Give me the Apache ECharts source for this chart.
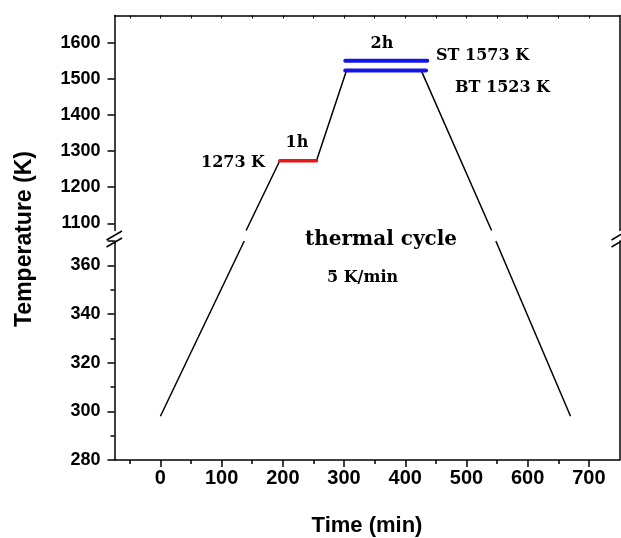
<!DOCTYPE html>
<html>
<head>
    <meta charset="utf-8">
    <title>thermal cycle</title>
    <script src="https://cdn.jsdelivr.net/npm/echarts@6/dist/echarts.min.js"></script>
    <style>
        html, body {margin: 0; padding: 0; background: #fff;}
    </style>
</head>
<body>
<div id="main" style="width: 621px;height:538px;"></div>
<script type="text/javascript">
    // ticks
    var xTicks = [0, 100, 200, 300, 400, 500, 600, 700];
    var xMinorTicks = [-50, 50, 150, 250, 350, 450, 550, 650];
    var xTopTicks = [-50, 0, 50, 100, 150, 200, 250, 300, 350, 400, 450, 500, 550, 600, 650, 700];
    var upperTicks = [1100, 1200, 1300, 1400, 1500, 1600];

    // upper part of the broken axis (K)
    var upperTime = [140, 195, 255, 304, 426, 541];
    var upperTemp = [1080, 1273, 1273, 1523, 1523, 1080];
    var holdTime = [195, 255];
    var holdTemp = [1273, 1273];
    var btTime = [302, 434];
    var btTemp = [1523, 1523];
    var stTime = [302, 436];
    var stTemp = [1550, 1550];

    // lower part of the broken axis (K)
    var riseTime = [0, 137];
    var riseTemp = [298, 370];
    var fallTime = [548, 670];
    var fallTemp = [370, 298];

    function pairs(xs, ys) {
        return xs.map(function (x, i) { return [x, ys[i]]; });
    }

    var sans = '"Liberation Sans", Arial, sans-serif';
    var serif = '"DejaVu Serif", serif';
    var black = '#000';
    var plain = function (v) { return String(v); };

    var myChart = echarts.init(document.getElementById('main'));

    function frameAxis(grid, pos, min, max) {
        return {
            type: 'value', gridIndex: grid, position: pos, min: min, max: max,
            axisLine: {show: true, onZero: false, lineStyle: {color: black, width: 1.5}},
            axisTick: {show: false}, axisLabel: {show: false}, splitLine: {show: false}
        };
    }

    function note(text, x, y, size, align) {
        return {
            type: 'text', x: x, y: y,
            style: {
                text: text, fill: black, align: align || 'left', verticalAlign: 'middle',
                font: 'bold ' + size + 'px ' + serif
            }
        };
    }

    function slash(x1, y1, x2, y2) {
        return {
            type: 'line', shape: {x1: x1, y1: y1, x2: x2, y2: y2},
            style: {stroke: black, lineWidth: 1.5}
        };
    }

    var option = {
        animation: false,
        grid: [
            {left: 114.5, right: 1.5, top: 15.5, height: 215},
            {left: 114.5, right: 1.5, top: 241, height: 219}
        ],
        xAxis: [
            {
                type: 'value', gridIndex: 0, position: 'top', min: -75, max: 750,
                axisLine: {show: true, onZero: false, lineStyle: {color: black, width: 1.5}},
                axisTick: {show: true, inside: true, length: 3, customValues: xTopTicks,
                    lineStyle: {color: black, width: 1}},
                axisLabel: {show: false}, splitLine: {show: false}
            },
            {
                type: 'value', gridIndex: 1, position: 'bottom', min: -75, max: 750,
                name: 'Time (min)', nameLocation: 'middle', nameGap: 55,
                nameTextStyle: {color: black, fontFamily: sans, fontWeight: 'bold', fontSize: 22},
                axisLine: {show: true, onZero: false, lineStyle: {color: black, width: 1.5}},
                axisTick: {show: true, length: 7, customValues: xTicks, lineStyle: {color: black, width: 1.5}},
                axisLabel: {show: true, customValues: xTicks, margin: 8, color: black, formatter: plain,
                    fontFamily: sans, fontWeight: 'bold', fontSize: 20},
                splitLine: {show: false}
            },
            {
                type: 'value', gridIndex: 1, position: 'bottom', min: -75, max: 750,
                axisLine: {show: false, onZero: false},
                axisTick: {show: true, length: 4, customValues: xMinorTicks, lineStyle: {color: black, width: 1.5}},
                axisLabel: {show: false}, splitLine: {show: false}
            }
        ],
        yAxis: [
            {
                type: 'value', gridIndex: 0, position: 'left', min: 1080, max: 1675,
                axisLine: {show: true, onZero: false, lineStyle: {color: black, width: 1.5}},
                axisTick: {show: true, length: 7, customValues: upperTicks, lineStyle: {color: black, width: 1.5}},
                axisLabel: {show: true, customValues: upperTicks, margin: 14, color: black, formatter: plain,
                    fontFamily: sans, fontWeight: 'bold', fontSize: 18},
                splitLine: {show: false}
            },
            frameAxis(0, 'right', 1080, 1675),
            {
                type: 'value', gridIndex: 1, position: 'left', min: 280, max: 370, interval: 20,
                axisLine: {show: true, onZero: false, lineStyle: {color: black, width: 1.5}},
                axisTick: {show: true, length: 7, lineStyle: {color: black, width: 1.5}},
                minorTick: {show: true, splitNumber: 2, length: 4, lineStyle: {color: black, width: 1.5}},
                axisLabel: {show: true, margin: 14, color: black, formatter: plain, showMaxLabel: false,
                    fontFamily: sans, fontWeight: 'bold', fontSize: 18},
                splitLine: {show: false}
            },
            frameAxis(1, 'right', 280, 370)
        ],
        series: [
            {type: 'line', xAxisIndex: 0, yAxisIndex: 0, data: pairs(upperTime, upperTemp),
                symbol: 'none', lineStyle: {color: black, width: 1.5}},
            {type: 'line', xAxisIndex: 0, yAxisIndex: 0, data: pairs(holdTime, holdTemp),
                symbol: 'none', lineStyle: {color: '#e81818', width: 3.5, cap: 'round'}},
            {type: 'line', xAxisIndex: 0, yAxisIndex: 0, data: pairs(btTime, btTemp),
                symbol: 'none', lineStyle: {color: '#1414e8', width: 4, cap: 'round'}},
            {type: 'line', xAxisIndex: 0, yAxisIndex: 0, data: pairs(stTime, stTemp),
                symbol: 'none', lineStyle: {color: '#1414e8', width: 4, cap: 'round'}},
            {type: 'line', xAxisIndex: 1, yAxisIndex: 2, data: pairs(riseTime, riseTemp),
                symbol: 'none', lineStyle: {color: black, width: 1.5}},
            {type: 'line', xAxisIndex: 1, yAxisIndex: 2, data: pairs(fallTime, fallTemp),
                symbol: 'none', lineStyle: {color: black, width: 1.5}}
        ],
        graphic: [
            {
                type: 'text', x: 25, y: 239, rotation: Math.PI / 2,
                style: {text: 'Temperature (K)', fill: black, align: 'center', verticalAlign: 'middle',
                    font: 'bold 23px ' + sans}
            },
            note('2h', 382, 44, 16, 'center'),
            note('ST 1573 K', 436, 55.5, 16),
            note('BT 1523 K', 455, 88, 16),
            note('1h', 297, 143, 16, 'center'),
            note('1273 K', 265, 163, 16, 'right'),
            note('thermal cycle', 305, 240, 20),
            note('5 K/min', 327, 278, 16),
            // axis break marks
            slash(106.5, 240, 122, 231),
            slash(106.5, 247, 122, 238),
            slash(611.5, 240, 627, 231),
            slash(611.5, 247, 627, 238)
        ]
    };

    myChart.setOption(option);
</script>
</body>
</html>
